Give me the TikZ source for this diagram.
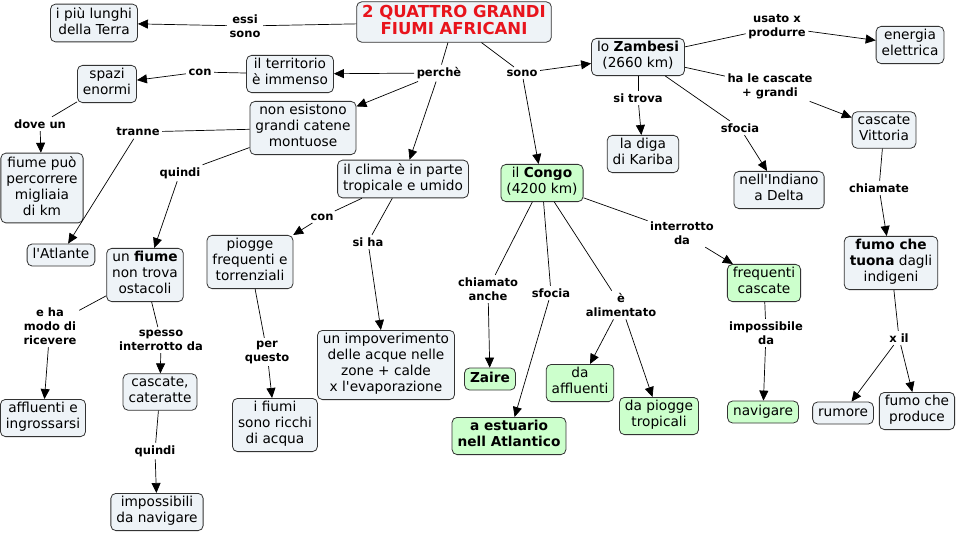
\documentclass[tikz,border=0pt]{standalone}
\usepackage{fontspec}
\setmainfont{DejaVu Sans}
\usetikzlibrary{arrows.meta}
\definecolor{cptfill}{HTML}{EEF3F7}
\definecolor{cptgreen}{HTML}{CCFFCC}
\definecolor{cptline}{HTML}{333333}
\definecolor{titlered}{HTML}{E8141C}
\tikzset{
  cpt/.style={draw=cptline, line width=0.8pt, rounded corners=5pt, fill=cptfill,
              align=center, inner xsep=5.5pt, inner ysep=3pt,
              font=\fontsize{13.7}{16}\selectfont,
              execute at begin node=\strut, execute at end node=\strut},
  cptg/.style={cpt, fill=cptgreen},
  ttl/.style={cpt, font=\fontsize{16.5}{17}\selectfont\bfseries, text=titlered},
  lnk/.style={align=center, inner sep=2.5pt, font=\fontsize{11.5}{14}\selectfont\bfseries},
  conn/.style={line width=0.7pt, draw=black},
  flow/.style={-{Triangle[length=10pt, width=9pt]}, line width=0.7pt, draw=black},
}
\newcommand{\apos}{\textquotesingle}

\begin{document}
\begin{tikzpicture}[x=1pt, y=-1pt]
  \fill[white] (0,0) rectangle (957,535);
  \node[ttl] (title) at (454,22) {2 QUATTRO GRANDI\\FIUMI AFRICANI};
  \node[cpt] (lunghi) at (94,23) {i più lunghi\\della Terra};
  \node[cpt] (territ) at (290,74) {il territorio\\è immenso};
  \node[cpt] (spazi) at (107,84) {spazi\\enormi};
  \node[cpt] (catene) at (303,128) {non esistono\\grandi catene\\montuose};
  \node[cpt] (clima) at (403,179) {il clima è in parte\\tropicale e umido};
  \node[cpt] (percorr) at (42,188) {fiume può\\percorrere\\migliaia\\di km};
  \node[cpt] (atlante) at (61,255) {l\apos Atlante};
  \node[cpt] (fiume) at (145,275) {un \textbf{fiume}\\non trova\\ostacoli};
  \node[cpt] (piogge) at (250,262) {piogge\\frequenti e\\torrenziali};
  \node[cpt] (impov) at (386,365) {un impoverimento\\delle acque nelle\\zone + calde\\x l\apos evaporazione};
  \node[cpt] (affl) at (43,418) {affluenti e\\ingrossarsi};
  \node[cpt] (casc) at (160,392) {cascate,\\cateratte};
  \node[cpt] (imposs) at (157,512) {impossibili\\da navigare};
  \node[cpt] (ricchi) at (275,425) {i fiumi\\sono ricchi\\di acqua};
  \node[cptg] (congo) at (542,183) {il \textbf{Congo}\\(4200 km)};
  \node[cpt] (zamb) at (638,57) {lo \textbf{Zambesi}\\(2660 km)};
  \node[cpt] (diga) at (643,154) {la diga\\di Kariba};
  \node[cpt] (energia) at (910,45) {energia\\elettrica};
  \node[cpt] (vitt) at (884,130) {cascate\\Vittoria};
  \node[cpt] (indiano) at (779,190) {nell\apos Indiano\\a Delta};
  \node[cpt] (tuona) at (891,263) {\textbf{fumo che}\\\textbf{tuona} dagli\\indigeni};
  \node[cptg] (freqc) at (764,283) {frequenti\\cascate};
  \node[cptg] (navig) at (763,412) {navigare};
  \node[cpt] (rumore) at (843,413) {rumore};
  \node[cpt] (prod) at (917,411) {fumo che\\produce};
  \node[cptg] (zaire) at (490,379) {\textbf{Zaire}};
  \node[cptg] (dafl) at (580,383) {da\\affluenti};
  \node[cptg] (dapiog) at (659,416) {da piogge\\tropicali};
  \node[cptg] (estuario) at (509,436) {\textbf{a estuario}\\\textbf{nell Atlantico}};

  \node[lnk] (lessi) at (245,26) {essi\\sono};
  \node[lnk] (lperche) at (439,73) {perchè};
  \node[lnk] (lsono) at (522,73) {sono};
  \node[lnk] (lcon) at (200,72) {con};
  \node[lnk] (ldove) at (40,124) {dove un};
  \node[lnk] (ltranne) at (138,132) {tranne};
  \node[lnk] (lquindi) at (180,173) {quindi};
  \node[lnk] (lcon2) at (322,217) {con};
  \node[lnk] (lsiha) at (368,242) {si ha};
  \node[lnk] (lmodo) at (50,326) {e ha\\modo di\\ricevere};
  \node[lnk] (lspesso) at (161,340) {spesso\\interrotto da};
  \node[lnk] (lquindi2) at (155,451) {quindi};
  \node[lnk] (lperq) at (267,352) {per\\questo};
  \node[lnk] (ltrova) at (638,98) {si trova};
  \node[lnk] (lusato) at (777,27) {usato x\\produrre};
  \node[lnk] (lhale) at (770,86) {ha le cascate\\+ grandi};
  \node[lnk] (lsfz) at (740,128) {sfocia};
  \node[lnk] (lchiamate) at (879,188) {chiamate};
  \node[lnk] (lxil) at (899,338) {x il};
  \node[lnk] (linterr) at (682,233) {interrotto\\da};
  \node[lnk] (limposs) at (766,333) {impossibile\\da};
  \node[lnk] (lchiam) at (488,289) {chiamato\\anche};
  \node[lnk] (lsfc) at (551,293) {sfocia};
  \node[lnk] (lalim) at (621,305) {è\\alimentato};

  \foreach \a/\b in {title/lessi, title/lperche, title/lsono, territ/lcon, spazi/ldove,
    catene/ltranne, catene/lquindi, clima/lcon2, clima/lsiha, fiume/lmodo, fiume/lspesso,
    casc/lquindi2, piogge/lperq, zamb/ltrova, zamb/lusato, zamb/lhale, zamb/lsfz,
    vitt/lchiamate, tuona/lxil, congo/linterr, freqc/limposs, congo/lchiam, congo/lsfc,
    congo/lalim}
    \draw[conn] (\a) -- (\b);
  \foreach \a/\b in {lessi/lunghi, lperche/territ, lperche/catene, lperche/clima,
    lsono/zamb, lsono/congo, lcon/spazi, ldove/percorr, ltranne/atlante, lquindi/fiume,
    lcon2/piogge, lsiha/impov, lmodo/affl, lspesso/casc, lquindi2/imposs, lperq/ricchi,
    ltrova/diga, lusato/energia, lhale/vitt, lsfz/indiano, lchiamate/tuona, lxil/rumore,
    lxil/prod, linterr/freqc, limposs/navig, lchiam/zaire, lsfc/estuario, lalim/dafl,
    lalim/dapiog}
    \draw[flow] (\a) -- (\b);
\end{tikzpicture}
\end{document}
